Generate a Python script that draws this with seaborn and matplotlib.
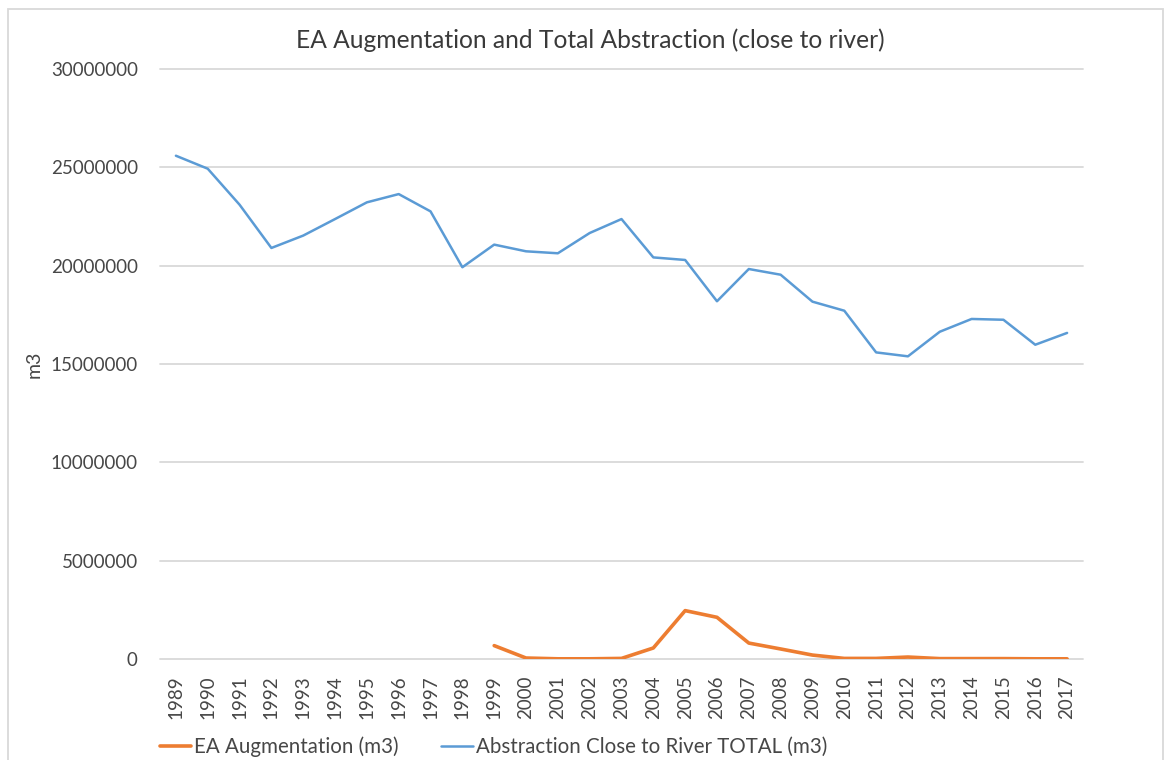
import matplotlib
matplotlib.use("Agg")
import matplotlib.pyplot as plt
from matplotlib.patches import Rectangle
import seaborn as sns
import pandas as pd

years = list(range(1989, 2018))
abstraction_total = [
    25.59e6, 24.93e6, 23.10e6, 20.90e6, 21.53e6, 22.37e6, 23.22e6, 23.64e6,
    22.76e6, 19.92e6, 21.07e6, 20.73e6, 20.63e6, 21.66e6, 22.37e6, 20.42e6,
    20.29e6, 18.19e6, 19.83e6, 19.54e6, 18.17e6, 17.71e6, 15.59e6, 15.39e6,
    16.64e6, 17.29e6, 17.25e6, 15.98e6, 16.58e6,
]
augmentation_years = list(range(1999, 2018))
augmentation = [
    0.68e6, 0.05e6, 0.01e6, 0.01e6, 0.03e6, 0.56e6, 2.46e6, 2.12e6, 0.81e6,
    0.51e6, 0.20e6, 0.03e6, 0.03e6, 0.10e6, 0.02e6, 0.02e6, 0.02e6, 0.01e6,
    0.01e6,
]
y_ticks = [0, 5000000, 10000000, 15000000, 20000000, 25000000, 30000000]

title = "EA Augmentation and Total Abstraction (close to river)"
label_aug = "EA Augmentation (m3)"
label_abs = "Abstraction Close to River TOTAL (m3)"

sns.set_theme(style="white")
plt.rcParams["font.family"] = ["Lato", "DejaVu Sans"]

text_col = "#474747"
grid_col = "#d9d9d9"
blue = "#5B9BD5"
orange = "#ED7D31"

fig = plt.figure(figsize=(11.69, 7.60), dpi=100)
fig.patch.set_facecolor("white")
ax = fig.add_axes([160 / 1169, 1 - 659 / 760, (1083 - 160) / 1169, (659 - 69) / 760])

df_aug = pd.DataFrame({"year": augmentation_years, "value": augmentation})
df_abs = pd.DataFrame({"year": years, "value": abstraction_total})

sns.lineplot(data=df_aug, x="year", y="value", ax=ax, color=orange,
             linewidth=2.6, label=label_aug, zorder=3)
sns.lineplot(data=df_abs, x="year", y="value", ax=ax, color=blue,
             linewidth=1.8, label=label_abs, zorder=3)

ax.set_xlim(years[0] - 0.5, years[-1] + 0.5)
ax.set_ylim(0, 30000000)
ax.set_xticks(years)
ax.set_xticklabels([str(y) for y in years], rotation=90, fontsize=13.5, color=text_col)
ax.set_yticks(y_ticks)
ax.set_yticklabels([str(v) for v in y_ticks], fontsize=13.5, color=text_col)
ax.tick_params(axis="x", length=0, pad=12)
ax.tick_params(axis="y", length=0, pad=16)

for yv in y_ticks:
    ax.axhline(yv, color=grid_col, linewidth=1.3, zorder=1, clip_on=False)
for s in ax.spines.values():
    s.set_visible(False)

ax.set_xlabel("")
ax.set_ylabel("m3", fontsize=14, color=text_col)
ax.yaxis.set_label_coords(-0.127, 0.5)

fig.text(0.505, 1 - 40 / 760, title, ha="center", va="center",
         fontsize=17.7, color="#3a3a3a")

ax.get_legend().remove()
handles, labels = ax.get_legend_handles_labels()
leg = fig.legend(handles, labels, loc="center left", ncol=2,
                 bbox_to_anchor=(141 / 1169, 1 - 747 / 760), frameon=False,
                 fontsize=14.8, handlelength=1.55, handletextpad=0.12,
                 columnspacing=2.1, labelcolor=text_col)

fig.patches.append(Rectangle((8 / 1169, -0.05), (1163 - 8) / 1169, 1.05 - 9 / 760,
                             transform=fig.transFigure, fill=False,
                             edgecolor=grid_col, linewidth=1.3))

fig.savefig("out.png", dpi=100)
